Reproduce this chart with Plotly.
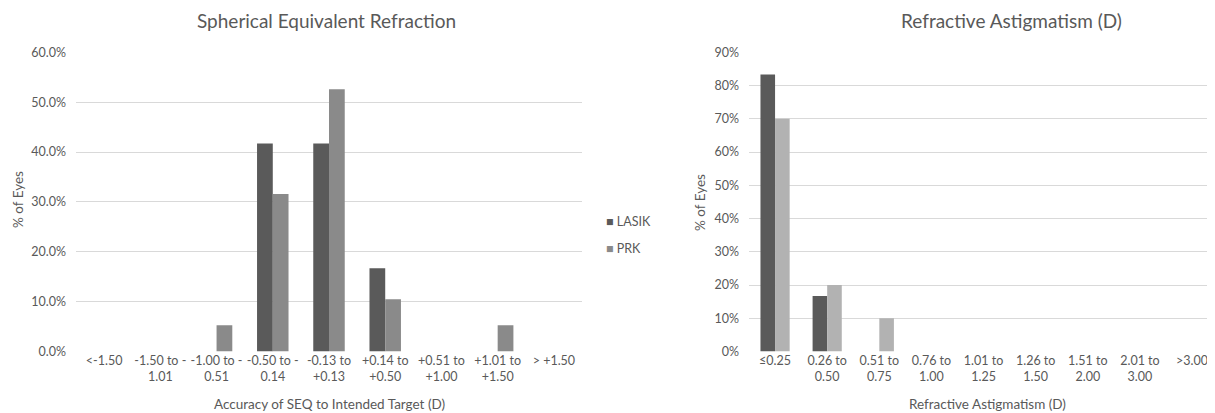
import plotly.graph_objects as go

# ---- data ----
seq_categories = ["<-1.50", "-1.50 to -<br>1.01", "-1.00 to -<br>0.51", "-0.50 to -<br>0.14",
                  "-0.13 to<br>+0.13", "+0.14 to<br>+0.50", "+0.51 to<br>+1.00", "+1.01 to<br>+1.50", "> +1.50"]
seq_lasik = [0, 0, 0, 41.7, 41.7, 16.7, 0, 0, 0]
seq_prk = [0, 0, 5.3, 31.6, 52.6, 10.5, 0, 5.3, 0]

astig_categories = ["≤0.25", "0.26 to<br>0.50", "0.51 to<br>0.75", "0.76 to<br>1.00", "1.01 to<br>1.25",
                    "1.26 to<br>1.50", "1.51 to<br>2.00", "2.01 to<br>3.00", ">3.00"]
astig_lasik = [83.3, 16.7, 0, 0, 0, 0, 0, 0, 0]
astig_prk = [70, 20, 10, 0, 0, 0, 0, 0, 0]

seq_ticks = [0, 10, 20, 30, 40, 50, 60]
seq_ticktext = ["0.0%", "10.0%", "20.0%", "30.0%", "40.0%", "50.0%", "60.0%"]
astig_ticks = [0, 10, 20, 30, 40, 50, 60, 70, 80, 90]
astig_ticktext = [f"{v}%" for v in astig_ticks]

# ---- style ----
FONT = "Lato, 'Open Sans', sans-serif"
TXT = "#595959"
GRID = "#d9d9d9"
C_LASIK = "#5a5a5a"
C_PRK_L = "#8a8a8a"
C_PRK_R = "#b2b2b2"

# page body has an 8px margin: size the figure to fill the rest of the window
OFF = 8
W, H = 1215 - OFF, 413 - OFF


def px(x):
    return (x - OFF) / W


def py(y):
    return 1 - (y - OFF) / H


fig = go.Figure()

fig.add_trace(go.Bar(x=list(range(len(seq_categories))), y=seq_lasik, name="LASIK",
                     marker=dict(color=C_LASIK, line=dict(width=0)),
                     xaxis="x", yaxis="y", showlegend=False))
fig.add_trace(go.Bar(x=list(range(len(seq_categories))), y=seq_prk, name="PRK",
                     marker=dict(color=C_PRK_L, line=dict(width=0)),
                     xaxis="x", yaxis="y", showlegend=False))
fig.add_trace(go.Bar(x=list(range(len(astig_categories))), y=astig_lasik, name="LASIK",
                     marker=dict(color=C_LASIK, line=dict(width=0)),
                     xaxis="x2", yaxis="y2", showlegend=False))
fig.add_trace(go.Bar(x=list(range(len(astig_categories))), y=astig_prk, name="PRK",
                     marker=dict(color=C_PRK_R, line=dict(width=0)),
                     xaxis="x2", yaxis="y2", showlegend=False))

axis_font = dict(family=FONT, size=12.5, color=TXT)
y_dom = [py(351.6), py(52.3)]

fig.update_layout(
    width=W, height=H,
    margin=dict(l=0, r=0, t=0, b=0, autoexpand=False),
    paper_bgcolor="white", plot_bgcolor="white",
    barmode="group", bargap=0.44, bargroupgap=0,
    font=dict(family=FONT, size=12.5, color=TXT),
    showlegend=False,
    xaxis=dict(domain=[px(76), px(582)], range=[-0.5, 8.5], automargin=False,
               tickmode="array", tickvals=list(range(len(seq_categories))), ticktext=seq_categories,
               showgrid=False, zeroline=False, showline=False, ticks="", tickfont=axis_font,
               anchor="y", fixedrange=True),
    yaxis=dict(domain=y_dom, range=[0, 60], automargin=False,
               tickmode="array", tickvals=seq_ticks, ticktext=seq_ticktext,
               showgrid=True, gridcolor=GRID, gridwidth=1, zeroline=False, showline=False,
               ticks="", tickfont=axis_font, ticklabelstandoff=9, anchor="x"),
    xaxis2=dict(domain=[px(749), 1.0], range=[-0.5, 8.44], automargin=False,
                tickmode="array", tickvals=list(range(len(astig_categories))), ticktext=astig_categories,
                showgrid=False, zeroline=False, showline=False, ticks="", tickfont=axis_font,
                anchor="y2"),
    yaxis2=dict(domain=y_dom, range=[0, 90], automargin=False,
                tickmode="array", tickvals=astig_ticks, ticktext=astig_ticktext,
                showgrid=True, gridcolor=GRID, gridwidth=1, zeroline=False, showline=False,
                ticks="", tickfont=axis_font, ticklabelstandoff=9, anchor="x2"),
)

ann = []
# chart titles
ann.append(dict(text="Spherical Equivalent Refraction", x=px(326), y=py(20), xref="paper", yref="paper",
                showarrow=False, font=dict(family=FONT, size=19, color=TXT), xanchor="center", yanchor="middle"))
ann.append(dict(text="Refractive Astigmatism (D)", x=px(1011), y=py(20), xref="paper", yref="paper",
                showarrow=False, font=dict(family=FONT, size=19, color=TXT), xanchor="center", yanchor="middle"))
# x-axis titles
ann.append(dict(text="Accuracy of SEQ to Intended Target (D)", x=px(329), y=py(404), xref="paper", yref="paper",
                showarrow=False, font=dict(family=FONT, size=13.5, color=TXT), xanchor="center", yanchor="middle"))
ann.append(dict(text="Refractive Astigmatism (D)", x=px(987), y=py(404), xref="paper", yref="paper",
                showarrow=False, font=dict(family=FONT, size=13.5, color=TXT), xanchor="center", yanchor="middle"))
# y-axis titles
ann.append(dict(text="% of Eyes", x=px(18), y=py(200), xref="paper", yref="paper", textangle=-90,
                showarrow=False, font=dict(family=FONT, size=13.5, color=TXT), xanchor="center", yanchor="middle"))
ann.append(dict(text="% of Eyes", x=px(700), y=py(203), xref="paper", yref="paper", textangle=-90,
                showarrow=False, font=dict(family=FONT, size=13.5, color=TXT), xanchor="center", yanchor="middle"))
# legend (series names with colour keys)
legend_items = [("LASIK", C_LASIK, 222), ("PRK", C_PRK_L, 248)]
for name, col, ypix in legend_items:
    ann.append(dict(text=f"<span style='color:{col}'>■</span> {name}", x=px(604), y=py(ypix),
                    xref="paper", yref="paper", showarrow=False, xanchor="left", yanchor="middle",
                    font=dict(family=FONT, size=12.5, color=TXT)))
fig.update_layout(annotations=ann)

fig.write_html("out.html", config={"displayModeBar": False})
